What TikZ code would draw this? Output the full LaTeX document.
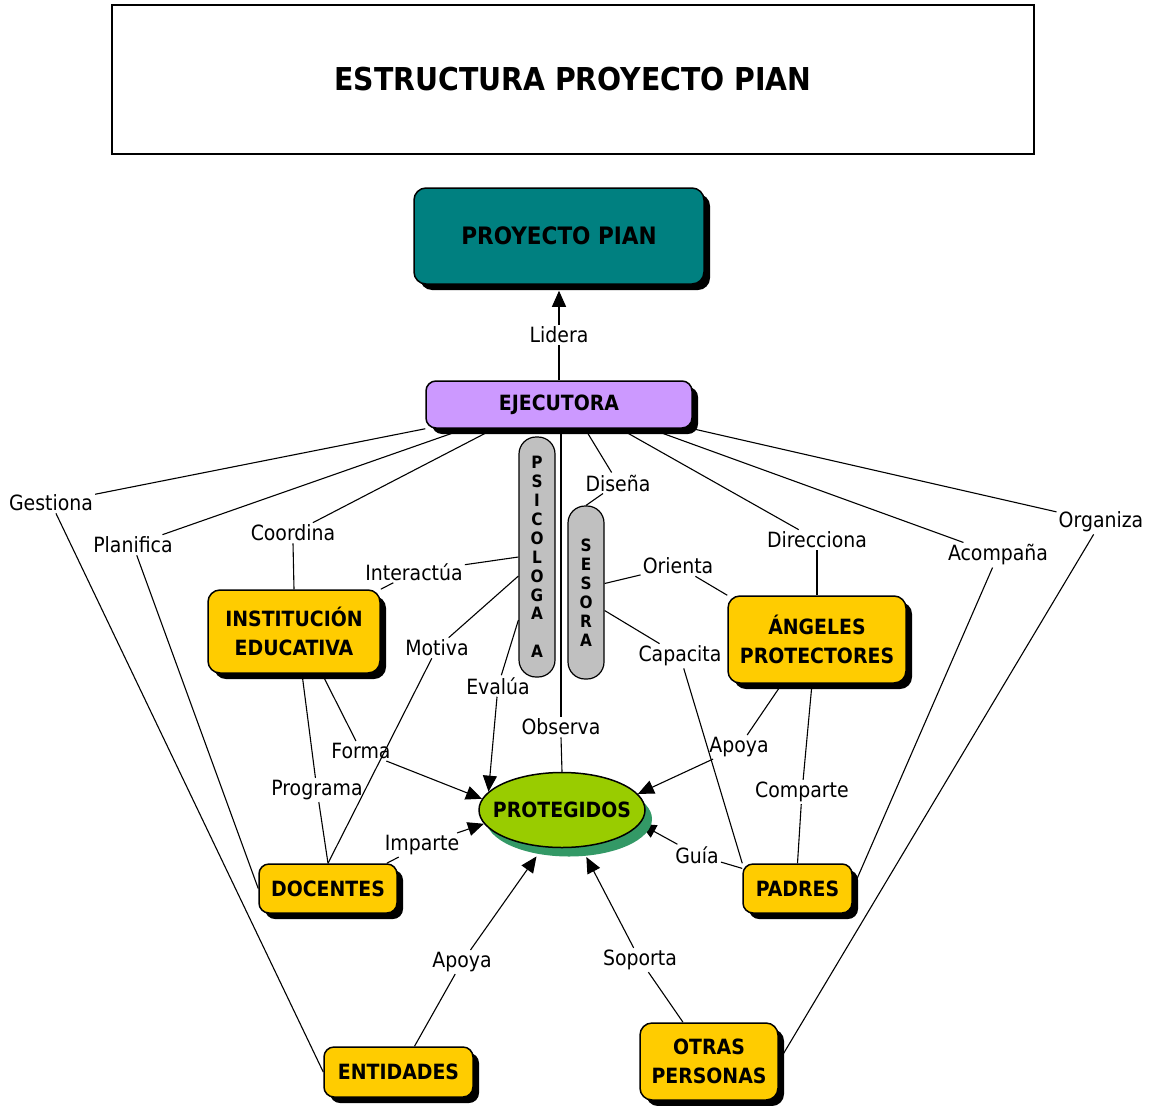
\documentclass[tikz,border=0pt]{standalone}
\usepackage{fontspec}
\setmainfont{DejaVu Sans Condensed}
\usetikzlibrary{arrows.meta,shadows,backgrounds,calc,shapes.geometric}

\definecolor{pianteal}{RGB}{0,128,128}
\definecolor{pianlila}{RGB}{204,153,255}
\definecolor{pianyellow}{RGB}{255,204,0}
\definecolor{piangreen}{RGB}{153,204,0}
\definecolor{pianshadow}{RGB}{51,153,102}
\definecolor{piangray}{RGB}{192,192,192}

\begin{document}
\begin{tikzpicture}[x=1pt,y=-1pt,
	headbox/.style={draw, line width=2pt, minimum width=922pt, minimum height=149pt,
		font=\fontsize{31.5}{36}\selectfont\bfseries},
	concept/.style={draw, line width=1.5pt, rounded corners=12pt, align=center,
		font=\fontsize{21}{28.5}\selectfont\bfseries,
		drop shadow={shadow xshift=6pt, shadow yshift=-6pt, opacity=1, fill=black}},
	actor/.style={concept, fill=pianyellow},
	pill/.style={draw, line width=1.2pt, fill=piangray, rounded corners=17pt,
		minimum width=36pt, align=center, inner sep=0pt,
		font=\fontsize{17}{18.9}\selectfont\bfseries},
	target/.style={draw, line width=1.5pt, ellipse, fill=piangreen,
		minimum width=166pt, minimum height=75pt, inner sep=0pt,
		font=\fontsize{21}{26}\selectfont\bfseries,
		drop shadow={shadow xshift=7pt, shadow yshift=-9pt, opacity=1, fill=pianshadow}},
	linkword/.style={inner sep=2pt, font=\fontsize{21}{24}\selectfont},
	conn/.style={line width=1.1pt},
	tip/.style={-{Triangle[length=16pt,width=14pt]}}]
	\useasboundingbox (0,0) rectangle (1158,1105);

	\node[headbox] (titulo) at (573,79.5) {ESTRUCTURA PROYECTO PIAN};

	% conceptos
	\node[concept, fill=pianteal, minimum width=290pt, minimum height=96pt,
		font=\fontsize{24}{28}\selectfont\bfseries] (pp) at (559,236) {PROYECTO PIAN};
	\node[concept, fill=pianlila, rounded corners=10pt, minimum width=266pt, minimum height=47pt] (ejec) at (559,404.5) {EJECUTORA};
	\node[pill, minimum height=240pt] (psico) at (537,557) {P\\S\\I\\C\\O\\L\\O\\G\\A\\[18.9pt]A};
	\node[pill, minimum height=173pt] (sesora) at (586,592.5) {S\\E\\S\\O\\R\\A};
	\node[actor, minimum width=172pt, minimum height=83pt] (inst) at (294,631.5) {INSTITUCIÓN\\EDUCATIVA};
	\node[actor, minimum width=178pt, minimum height=87pt] (angel) at (817,639.5) {ÁNGELES\\PROTECTORES};
	\node[target] (prot) at (562,810) {\makebox[0pt]{PROTEGIDOS}};
	\node[actor, rounded corners=10pt, minimum width=138pt, minimum height=49pt] (doc) at (328,888.5) {DOCENTES};
	\node[actor, rounded corners=10pt, minimum width=109pt, minimum height=49pt] (pad) at (797.5,888.5) {PADRES};
	\node[actor, rounded corners=10pt, minimum width=149pt, minimum height=50pt] (ent) at (398.5,1072) {ENTIDADES};
	\node[actor, minimum width=138pt, minimum height=77pt] (otras) at (709,1061.5) {OTRAS\\PERSONAS};

	% palabras de enlace
	\node[linkword] (lid) at (559,335) {Lidera};
	\node[linkword] (gest) at (51,503) {Gestiona};
	\node[linkword] (plan) at (133,545) {Planifica};
	\node[linkword] (coord) at (293,533) {Coordina};
	\node[linkword] (dis) at (618,483) {Diseña};
	\node[linkword] (dir) at (817,540) {Direcciona};
	\node[linkword] (acomp) at (998,555) {Acompaña};
	\node[linkword] (org) at (1101,522) {Organiza};
	\node[linkword] (inter) at (414,572) {Interactúa};
	\node[linkword] (mot) at (437,648) {Motiva};
	\node[linkword] (eval) at (498,686) {Evalúa};
	\node[linkword] (obs) at (561,727) {Observa};
	\node[linkword] (ori) at (678,566) {Orienta};
	\node[linkword] (cap) at (680,656) {Capacita};
	\node[linkword] (forma) at (361,751) {Forma};
	\node[linkword] (prog) at (317,790) {Programa};
	\node[linkword] (imp) at (422,845) {Imparte};
	\node[linkword] (apoyaA) at (739,747) {Apoya};
	\node[linkword] (comp) at (802,792) {Comparte};
	\node[linkword] (guia) at (697,855) {Guía};
	\node[linkword] (apoyaB) at (462,962) {Apoya};
	\node[linkword] (sop) at (640,960) {Soporta};

	\begin{scope}[on background layer]
		\draw[conn] (ejec) -- (lid);
		\draw[conn, tip] (lid) -- ($(pp.south)+(0,6)$);

		\draw[conn] (ejec.south west) -- (gest);
		\draw[conn] (gest) -- (ent.west);
		\draw[conn] ($(ejec.south)+(-94,0)$) -- (plan);
		\draw[conn] (plan) -- (doc.west);
		\draw[conn] ($(ejec.south)+(-65,0)$) -- (coord);
		\draw[conn] (coord.south) -- (inst.north);
		\draw[conn] ($(ejec.south)+(2,0)$) -- (obs.north);
		\draw[conn] (obs.south) -- (prot.north);
		\draw[conn] ($(ejec.south)+(26,0)$) -- (dis);
		\draw[conn] (dis) -- (sesora.north);
		\draw[conn] ($(ejec.south)+(61,0)$) -- (dir);
		\draw[conn] (dir.south) -- (angel.north);
		\draw[conn] ($(ejec.south)+(91,0)$) -- (acomp);
		\draw[conn] (acomp) -- (pad.east);
		\draw[conn] (ejec.south east) -- (org);
		\draw[conn] (org) -- (otras.east);

		\draw[conn] (psico.west) -- (inter);
		\draw[conn] (inter) -- (inst.north east);
		\draw[conn] ($(psico.west)+(0,19)$) -- (mot);
		\draw[conn] (mot) -- (doc.north);
		\draw[conn] ($(psico.west)+(0,63)$) -- (eval);
		\draw[conn, tip] (eval) -- (prot.166);

		\draw[conn] ($(sesora.east)+(0,-9)$) -- (ori);
		\draw[conn] (ori) -- (angel.north west);
		\draw[conn] ($(sesora.east)+(0,18)$) -- (cap);
		\draw[conn] (cap) -- (pad.north west);

		\draw[conn] ($(inst.south)+(28,0)$) -- (forma);
		\draw[conn, tip] (forma) -- (prot.172);
		\draw[conn] ($(inst.south)+(8,0)$) -- (prog);
		\draw[conn] (prog) -- (doc.north);
		\draw[conn] ($(doc.north east)+(-11,0)$) -- (imp);
		\draw[conn, tip] (imp) -- (prot.190);

		\draw[conn] ($(angel.south)+(-35,0)$) -- (apoyaA);
		\draw[conn, tip] (apoyaA) -- (prot.12);
		\draw[conn] ($(angel.south)+(-5,0)$) -- (comp);
		\draw[conn] (comp) -- (pad.north);
		\draw[conn] (pad.160) -- (guia);
		\draw[conn, tip] (guia) -- (prot.-10);

		\draw[conn] ($(ent.north)+(16,0)$) -- (apoyaB);
		\draw[conn, tip] (apoyaB) -- ($(prot.-125)+(0,10)$);
		\draw[conn] ($(otras.north)+(-26,0)$) -- (sop);
		\draw[conn, tip] (sop) -- ($(prot.-60)+(3,10)$);
	\end{scope}
\end{tikzpicture}
\end{document}
